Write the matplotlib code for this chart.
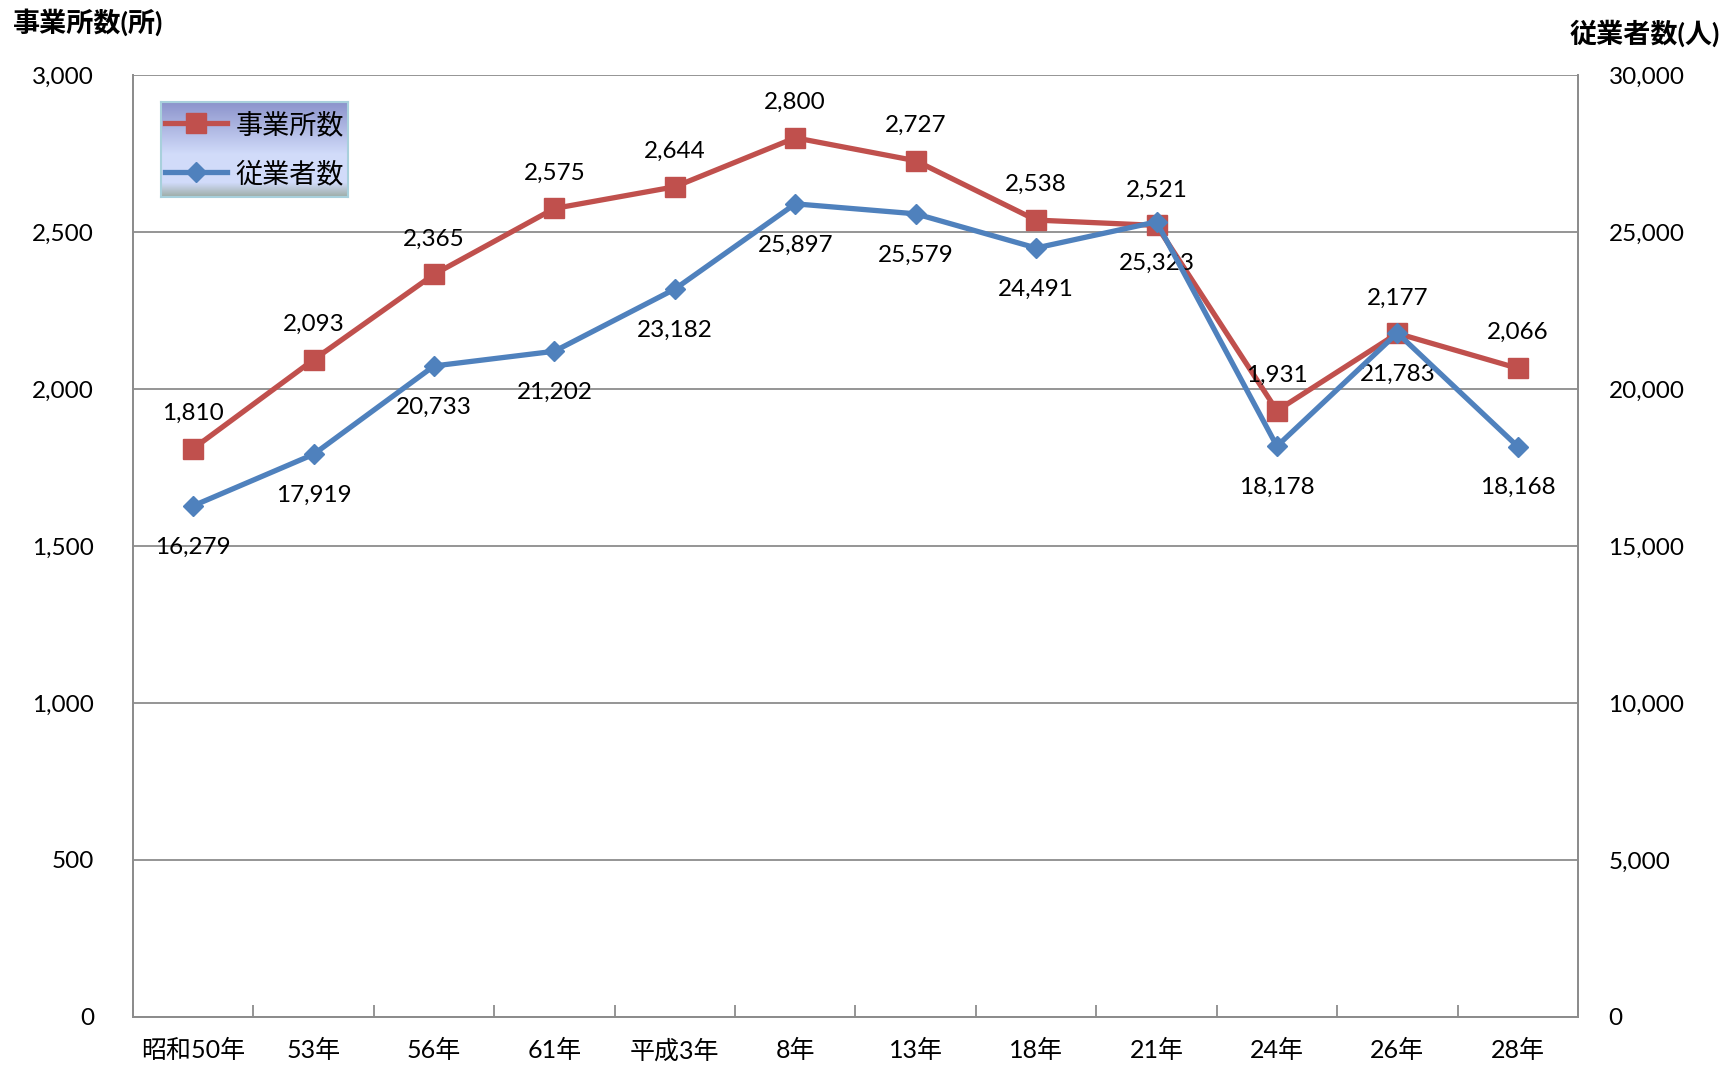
import matplotlib
matplotlib.use("Agg")
import matplotlib.pyplot as plt
import numpy as np
from matplotlib.lines import Line2D
from matplotlib.ticker import FuncFormatter, FixedLocator

categories = ["昭和50年", "53年", "56年", "61年", "平成3年", "8年", "13年", "18年", "21年", "24年", "26年", "28年"]
establishments = [1810, 2093, 2365, 2575, 2644, 2800, 2727, 2538, 2521, 1931, 2177, 2066]
employees = [16279, 17919, 20733, 21202, 23182, 25897, 25579, 24491, 25323, 18178, 21783, 18168]
left_ticks = [0, 500, 1000, 1500, 2000, 2500, 3000]
right_ticks = [0, 5000, 10000, 15000, 20000, 25000, 30000]

FONT = ["Lato", "Noto Sans CJK JP", "DejaVu Sans"]
plt.rcParams["font.family"] = FONT

RED = "#C0504D"
BLUE = "#4F81BD"
GRID = "#8C8C8C"

fig = plt.figure(figsize=(17.24, 10.67), dpi=100)
ax = fig.add_axes([0.0771, 0.0469, 0.9153 - 0.0771, 0.9297 - 0.0469])
ax2 = ax.twinx()

x = np.arange(len(categories))
ax.set_xlim(-0.5, len(categories) - 0.5)
ax.set_ylim(0, 3000)
ax2.set_ylim(0, 30000)

ax.yaxis.set_major_locator(FixedLocator(left_ticks))
ax2.yaxis.set_major_locator(FixedLocator(right_ticks))
fmt = FuncFormatter(lambda v, p: f"{int(v):,}")
ax.yaxis.set_major_formatter(fmt)
ax2.yaxis.set_major_formatter(fmt)
ax.grid(axis="y", color=GRID, linewidth=1.3)
ax.set_axisbelow(True)

for a in (ax, ax2):
    for s in a.spines.values():
        s.set_color(GRID)
        s.set_linewidth(1.3)
    a.spines["top"].set_visible(False)
ax.tick_params(axis="y", length=0, labelsize=17.5, pad=28)
ax2.tick_params(axis="y", length=0, labelsize=17.5, pad=22)

ax.set_xticks(x)
ax.set_xticklabels(categories)
ax.set_xticks(np.arange(-0.5, len(categories) + 0.5, 1), minor=True)
ax.tick_params(axis="x", which="major", length=0, labelsize=18, pad=16)
ax.tick_params(axis="x", which="minor", length=9, direction="in", color=GRID, width=1.3)

ax.plot(x, establishments, color=RED, linewidth=3.8, marker="s", markersize=14, zorder=3)
ax2.plot(x, employees, color=BLUE, linewidth=3.8, marker="D", markersize=10, zorder=4)
ax2.set_zorder(ax.get_zorder() + 1)
ax2.patch.set_visible(False)

for xi, v in zip(x, establishments):
    ax.annotate(f"{v:,}", (xi, v), xytext=(0, 18), textcoords="offset points",
                ha="center", va="bottom", fontsize=17.5, color="black")
for xi, v in zip(x, employees):
    ax2.annotate(f"{v:,}", (xi, v), xytext=(0, -22), textcoords="offset points",
                 ha="center", va="top", fontsize=17.5, color="black")

fig.text(13 / 1724, 1 - 22 / 1067, "事業所数(所)", ha="left", va="center",
         fontsize=19.5, fontweight="bold", family=FONT)
fig.text(1720 / 1724, 1 - 33 / 1067, "従業者数(人)", ha="right", va="center",
         fontsize=19.5, fontweight="bold", family=FONT)

# legend with gradient background
lx0, ly0, lx1, ly1 = 161, 102, 348, 197
lax = fig.add_axes([lx0 / 1724, 1 - ly1 / 1067, (lx1 - lx0) / 1724, (ly1 - ly0) / 1067])
top = np.array([0.55, 0.58, 0.80])
mid = np.array([0.82, 0.86, 0.98])
bot = np.array([0.62, 0.68, 0.66])
n = 100
rows = []
for ti in np.linspace(0, 1, n):
    if ti < 0.55:
        c = top + (mid - top) * (ti / 0.55)
    elif ti < 0.85:
        c = mid
    else:
        c = mid + (bot - mid) * ((ti - 0.85) / 0.15)
    rows.append(c)
img = np.array(rows)[:, None, :].repeat(2, axis=1)
lax.imshow(img, aspect="auto", extent=[0, 1, 0, 1], origin="upper")
lax.set_xlim(0, 1)
lax.set_ylim(0, 1)
lax.set_xticks([])
lax.set_yticks([])
for s in lax.spines.values():
    s.set_color("#A8D0DC")
    s.set_linewidth(1.5)

handles = [Line2D([], [], color=RED, linewidth=3.8, marker="s", markersize=14),
           Line2D([], [], color=BLUE, linewidth=3.8, marker="D", markersize=10)]
lax.legend(handles, ["事業所数", "従業者数"], loc="center", frameon=False,
           fontsize=19.5, handlelength=2.3, handletextpad=0.3, labelspacing=0.85,
           borderaxespad=0)

fig.savefig("out.png", dpi=100)
